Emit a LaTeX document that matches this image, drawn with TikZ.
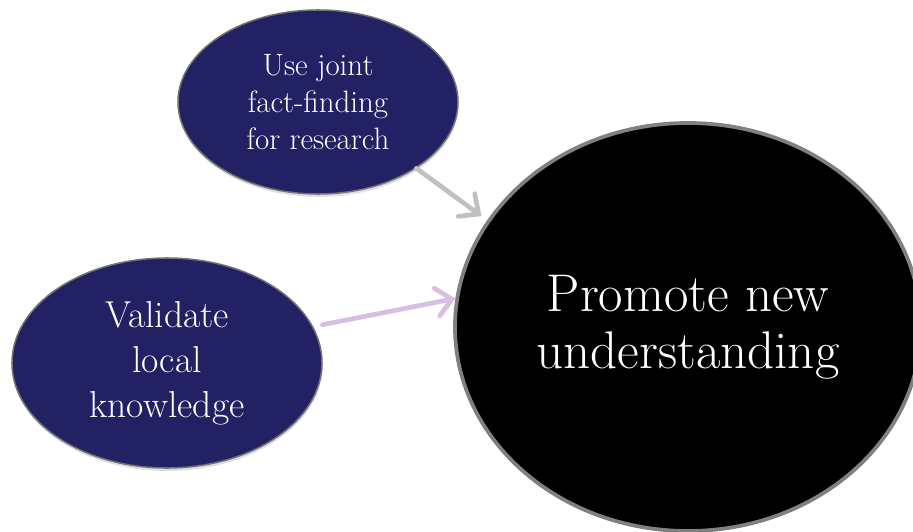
\documentclass[tikz,border=0pt]{standalone}
\usepackage{xcolor}
\usetikzlibrary{arrows.meta}
\usetikzlibrary{shapes.geometric, shadows}

\definecolor{navy}{RGB}{33,33,100}
\definecolor{arrgray}{RGB}{192,192,192}
\definecolor{lilac}{RGB}{215,190,226}

\tikzset{
bubble/.style={ellipse, fill=navy, draw=black!55, line width=1.3pt, inner sep=0pt,
  text=white, align=center, drop shadow={opacity=0.25, shadow xshift=0.5pt, shadow yshift=-2.5pt}},
link/.style={line width=4pt, line cap=round, -{Straight Barb[length=13pt, width=24pt, line cap=round]}},
}

\begin{document}
\begin{tikzpicture}[x=0.03cm, y=-0.03cm]
\useasboundingbox (0,0) rectangle (913,532);

\node[bubble, minimum width=8.4cm, minimum height=5.52cm,
  font=\fontsize{26.4}{31.5}\selectfont] (joint) at (318,102)
  {Use joint\\fact-finding\\for research};
\node[bubble, minimum width=9.3cm, minimum height=6.3cm,
  font=\fontsize{32}{38.5}\selectfont] (local) at (167,363)
  {Validate\\local\\knowledge};
\node[ellipse, fill=black, draw=black!50, line width=3.2pt, inner sep=0pt,
  minimum width=13.98cm, minimum height=12.24cm, text=white, align=center,
  font=\fontsize{45.3}{48.5}\selectfont] (promote) at (688,327)
  {Promote new\\understanding};

\draw[link, draw=arrgray, shorten >=6pt] (joint.-34) -- (promote.152);
\draw[link, draw=lilac, shorten <=8pt] (local.14) -- (promote.173);

\end{tikzpicture}
\end{document}
